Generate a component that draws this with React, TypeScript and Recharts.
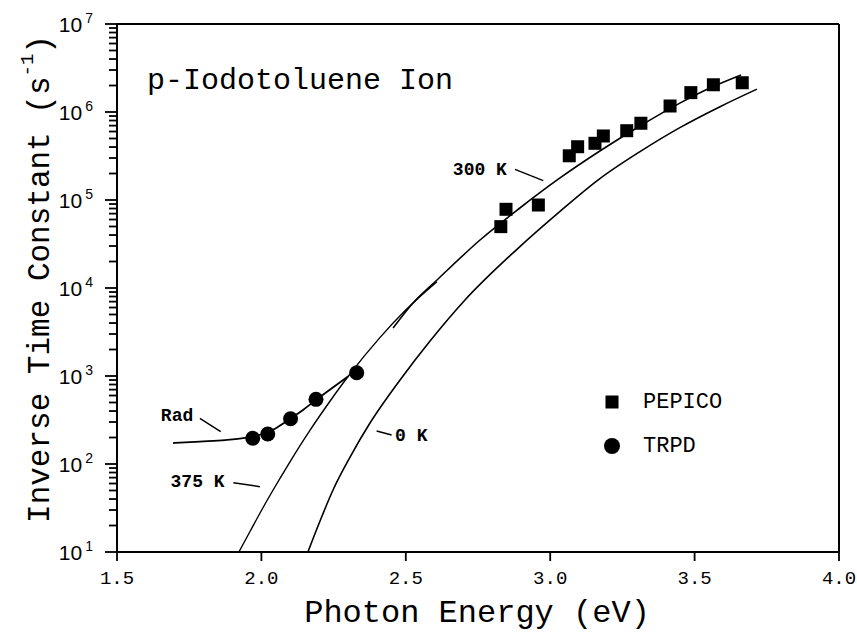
import React from 'react';
import { ComposedChart, Line, Scatter, XAxis, YAxis, ReferenceLine, ReferenceDot, Legend } from 'recharts';

// Curves (photon energy eV, inverse time constant s^-1)
const radCurve = [
  { e: 1.694, v: 173 }, { e: 1.787, v: 180 }, { e: 1.874, v: 187 }, { e: 1.943, v: 198 },
  { e: 1.995, v: 215 }, { e: 2.047, v: 252 }, { e: 2.099, v: 325 }, { e: 2.144, v: 411 },
  { e: 2.189, v: 534 }, { e: 2.238, v: 703 }, { e: 2.300, v: 986 },
];
const curve375K = [
  { e: 1.922, v: 10 }, { e: 1.961, v: 17.2 }, { e: 2.002, v: 30.4 }, { e: 2.040, v: 50.3 },
  { e: 2.099, v: 106 }, { e: 2.168, v: 241 }, { e: 2.238, v: 520 }, { e: 2.300, v: 986 },
  { e: 2.411, v: 2750 }, { e: 2.497, v: 5520 }, { e: 2.608, v: 11800 },
];
const curve300K = [
  { e: 2.456, v: 3510 }, { e: 2.525, v: 6760 }, { e: 2.608, v: 12330 }, { e: 2.757, v: 35100 },
  { e: 2.895, v: 81100 }, { e: 3.034, v: 178000 }, { e: 3.172, v: 360000 }, { e: 3.311, v: 693000 },
  { e: 3.449, v: 1260000 }, { e: 3.553, v: 1870000 }, { e: 3.661, v: 2630000 },
];
const curve0K = [
  { e: 2.161, v: 10 }, { e: 2.203, v: 22.5 }, { e: 2.248, v: 50.7 }, { e: 2.307, v: 120 },
  { e: 2.376, v: 292 }, { e: 2.480, v: 901 }, { e: 2.584, v: 2500 }, { e: 2.705, v: 7310 },
  { e: 2.882, v: 27000 }, { e: 3.034, v: 74300 }, { e: 3.172, v: 175000 }, { e: 3.311, v: 355000 },
  { e: 3.449, v: 665000 }, { e: 3.588, v: 1150000 }, { e: 3.716, v: 1820000 },
];

// Measured points
const pepico = [
  { e: 2.829, v: 49800 }, { e: 2.847, v: 78400 }, { e: 2.959, v: 87700 }, { e: 3.066, v: 318000 },
  { e: 3.095, v: 403000 }, { e: 3.155, v: 441000 }, { e: 3.184, v: 534000 }, { e: 3.265, v: 613000 },
  { e: 3.314, v: 745000 }, { e: 3.415, v: 1170000 }, { e: 3.487, v: 1660000 }, { e: 3.565, v: 2040000 },
  { e: 3.665, v: 2150000 },
];
const trpd = [
  { e: 1.970, v: 196 }, { e: 2.022, v: 219 }, { e: 2.101, v: 327 }, { e: 2.189, v: 543 }, { e: 2.330, v: 1090 },
];

// Axes
const energyTicks = [1.5, 2.0, 2.5, 3.0, 3.5, 4.0];
const tickMantissas = [1, 2, 3, 4, 5, 6, 7, 8, 9];
const tickExponents = [1, 2, 3, 4, 5, 6];
const rateTicks = [...tickExponents.flatMap((p) => tickMantissas.map((m) => m * Math.pow(10, p))), 1e7];

// Annotations
const curveLabels = [
  { text: '300 K', e: 2.850, v: 219000, anchor: 'end' },
  { text: 'Rad', e: 1.708, v: 351, anchor: 'middle' },
  { text: '375 K', e: 1.779, v: 61.7, anchor: 'middle' },
  { text: '0 K', e: 2.463, v: 208, anchor: 'start' },
];
const leaderLines = [
  [{ x: 2.878, y: 223000 }, { x: 2.976, y: 166000 }],
  [{ x: 1.787, y: 330 }, { x: 1.859, y: 233 }],
  [{ x: 1.903, y: 61.3 }, { x: 1.995, y: 55.2 }],
  [{ x: 2.399, y: 237 }, { x: 2.451, y: 214 }],
];
const title = { text: 'p-Iodotoluene Ion', e: 1.604, v: 2250000 };
const legendItems = [
  { name: 'PEPICO', marker: 'square' },
  { name: 'TRPD', marker: 'circle' },
];

const MONO = '"Liberation Mono", "Courier New", monospace';
const SANS = '"Liberation Sans", Arial, sans-serif';

const YTick = (props: any) => {
  const { x, y, payload } = props;
  const v = Number(payload.value);
  const exp = Math.log10(v);
  const major = Math.abs(exp - Math.round(exp)) < 1e-6;
  const len = major ? 12 : 8;
  return (
    <g>
      <rect x={x - len} y={y - 0.9} width={len} height={1.8} fill="#000" />
      {major && (
        <text x={x - 24} y={y} dy="0.36em" textAnchor="end" fontFamily={SANS} fontSize={21} fill="#000">
          <tspan>10</tspan>
          <tspan dx={3} dy={-9} fontSize={14}>{Math.round(exp)}</tspan>
        </text>
      )}
    </g>
  );
};

const XTick = (props: any) => {
  const { x, y, payload } = props;
  return (
    <g>
      <rect x={x - 0.9} y={y} width={1.8} height={9} fill="#000" />
      <text x={x} y={y + 32} textAnchor="middle" fontFamily={MONO} fontSize={19} fill="#000">
        {Number(payload.value).toFixed(1)}
      </text>
    </g>
  );
};

const SquareShape = (props: any) => {
  const { cx, cy } = props;
  return <rect x={cx - 6.5} y={cy - 6.5} width={13} height={13} fill="#000" />;
};
const CircleShape = (props: any) => {
  const { cx, cy } = props;
  return <circle cx={cx} cy={cy} r={7.5} fill="#000" />;
};

const YLabel = () => {
  const cx = 40;
  const cy = 279;
  return (
    <text x={cx} y={cy} transform={`rotate(-90, ${cx}, ${cy})`} textAnchor="middle" dominantBaseline="central"
      fontFamily={MONO} fontSize={31} fill="#000">
      <tspan>Inverse Time Constant (s</tspan>
      <tspan dy={-12} fontSize={19}>-1</tspan>
      <tspan dy={12}>)</tspan>
    </text>
  );
};

const XLabel = () => (
  <text x={477} y={622} textAnchor="middle" fontFamily={MONO} fontSize={32} fill="#000">
    Photon Energy (eV)
  </text>
);

const LegendContent = () => (
  <div style={{ fontFamily: MONO, fontSize: 22, color: '#000' }}>
    {legendItems.map((it) => (
      <div key={it.name} style={{ display: 'flex', alignItems: 'center', height: 44 }}>
        <svg width={26} height={26} style={{ marginRight: 18 }}>
          {it.marker === 'square' ? <rect x={6.5} y={6.5} width={13} height={13} fill="#000" /> : <circle cx={13} cy={13} r={8} fill="#000" />}
        </svg>
        <span>{it.name}</span>
      </div>
    ))}
  </div>
);

export default function App() {
  return (
    <div style={{ position: 'absolute', left: 0, top: 0, background: '#fff' }}>
      <ComposedChart width={857} height={637} margin={{ top: 24, right: 18, bottom: 0, left: 0 }}>
        <XAxis
          dataKey="e"
          type="number"
          domain={[1.5, 4.0]}
          ticks={energyTicks}
          interval={0}
          allowDataOverflow
          height={85}
          axisLine={{ stroke: '#000', strokeWidth: 2 }}
          tickLine={false}
          tickSize={0}
          tickMargin={0}
          tick={<XTick />}
          label={<XLabel />}
        />
        <YAxis
          dataKey="v"
          type="number"
          scale="log"
          domain={[10, 1e7]}
          allowDataOverflow
          ticks={rateTicks}
          interval={0}
          width={117}
          tickSize={0}
          tickMargin={0}
          tickLine={false}
          axisLine={{ stroke: '#000', strokeWidth: 2 }}
          tick={<YTick />}
          label={<YLabel />}
        />
        <ReferenceLine y={1e7} stroke="#000" strokeWidth={2} />
        <ReferenceLine x={4.0} stroke="#000" strokeWidth={2} />
        <Line data={radCurve} dataKey="v" type="monotone" stroke="#000" strokeWidth={1.8} dot={false} activeDot={false} isAnimationActive={false} legendType="none" />
        <Line data={curve375K} dataKey="v" type="monotone" stroke="#000" strokeWidth={1.4} dot={false} activeDot={false} isAnimationActive={false} legendType="none" />
        <Line data={curve300K} dataKey="v" type="monotone" stroke="#000" strokeWidth={1.6} dot={false} activeDot={false} isAnimationActive={false} legendType="none" />
        <Line data={curve0K} dataKey="v" type="monotone" stroke="#000" strokeWidth={1.6} dot={false} activeDot={false} isAnimationActive={false} legendType="none" />
        <Scatter name="PEPICO" data={pepico} dataKey="v" shape={<SquareShape />} isAnimationActive={false} />
        <Scatter name="TRPD" data={trpd} dataKey="v" shape={<CircleShape />} isAnimationActive={false} />
        {leaderLines.map((seg, i) => (
          <ReferenceLine key={'l' + i} segment={seg} stroke="#000" strokeWidth={1.5} />
        ))}
        {curveLabels.map((lb) => (
          <ReferenceDot key={lb.text} x={lb.e} y={lb.v} r={0}
            shape={(p: any) => (
              <text x={p.cx} y={p.cy} textAnchor={lb.anchor} dominantBaseline="central" fontFamily={MONO} fontWeight="bold" fontSize={18} fill="#000">{lb.text}</text>
            )} />
        ))}
        <ReferenceDot x={title.e} y={title.v} r={0}
          shape={(p: any) => (
            <text x={p.cx} y={p.cy} textAnchor="start" dominantBaseline="central" fontFamily={MONO} fontSize={30} fill="#000">{title.text}</text>
          )} />
        <Legend layout="vertical" align="center" verticalAlign="middle" content={<LegendContent />}
          wrapperStyle={{ position: 'absolute', left: 599, top: 380, width: 160 }} />
      </ComposedChart>
    </div>
  );
}
